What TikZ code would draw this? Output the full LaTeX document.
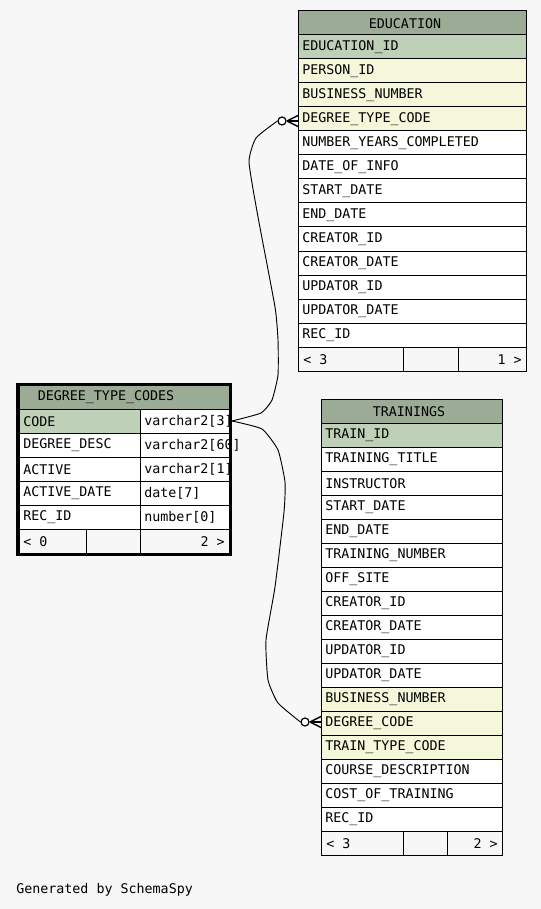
\documentclass[tikz,border=0pt]{standalone}
\usepackage{fontspec}
\setmonofont{DejaVu Sans Mono}
\definecolor{bgc}{HTML}{F7F7F7}
\definecolor{hdr}{HTML}{9BAB96}
\definecolor{pk}{HTML}{BED1B8}
\definecolor{fk}{HTML}{F4F7DA}
\tikzset{
  cell/.style={anchor=west, inner sep=0pt, font=\ttfamily\fontsize{10}{12}\selectfont},
  cellr/.style={anchor=east, inner sep=0pt, font=\ttfamily\fontsize{10}{12}\selectfont},
  cellc/.style={anchor=center, inner sep=0pt, font=\ttfamily\fontsize{10}{12}\selectfont},
  box/.style={draw=black, line width=0.75pt},
  rel/.style={draw=black, line width=0.7pt},
  optcircle/.style={circle, draw=black, fill=white, line width=0.9pt, inner sep=0pt, minimum size=6pt},
  crow/.style={draw=black, line width=1.1pt},
}
\newcommand\rowbox[6]{% name, x1, x2, ytop, fill, text
  \path[box, fill=#5] (#2,#4) rectangle (#3,#4+24);
  \node[cell] (#1) at (#2+4,#4+12.5) {#6};
}
\begin{document}
\begin{tikzpicture}[x=0.75pt, y=-0.75pt]
\useasboundingbox (0,0) rectangle (541,909);
\fill[bgc] (0,0) rectangle (541,909);

% ---------- EDUCATION ----------
\path[box, fill=hdr] (298,11) rectangle (526,35);
\node[cellc] (edu-h) at (405,23.5) {EDUCATION};
\rowbox{edu-1}{298}{526}{35}{pk}{EDUCATION\_ID}
\rowbox{edu-2}{298}{526}{59}{fk}{PERSON\_ID}
\rowbox{edu-3}{298}{526}{83}{fk}{BUSINESS\_NUMBER}
\rowbox{edu-4}{298}{526}{107}{fk}{DEGREE\_TYPE\_CODE}
\rowbox{edu-5}{298}{526}{131}{white}{NUMBER\_YEARS\_COMPLETED}
\rowbox{edu-6}{298}{526}{155}{white}{DATE\_OF\_INFO}
\rowbox{edu-7}{298}{526}{179}{white}{START\_DATE}
\rowbox{edu-8}{298}{526}{203}{white}{END\_DATE}
\rowbox{edu-9}{298}{526}{227}{white}{CREATOR\_ID}
\rowbox{edu-10}{298}{526}{251}{white}{CREATOR\_DATE}
\rowbox{edu-11}{298}{526}{275}{white}{UPDATOR\_ID}
\rowbox{edu-12}{298}{526}{299}{white}{UPDATOR\_DATE}
\rowbox{edu-13}{298}{526}{323}{white}{REC\_ID}
\path[box, fill=bgc] (298,347) rectangle (403,371);
\path[box, fill=bgc] (403,347) rectangle (458,371);
\path[box, fill=bgc] (458,347) rectangle (526,371);
\node[cell] (edu-fl) at (303,359.5) {< 3};
\node[cellr] (edu-fr) at (522,359.5) {1 >};

% ---------- TRAININGS ----------
\path[box, fill=hdr] (321,399) rectangle (502,423);
\node[cellc] (tr-h) at (409,411.5) {TRAININGS};
\rowbox{tr-1}{321}{502}{423}{pk}{TRAIN\_ID}
\rowbox{tr-2}{321}{502}{447}{white}{TRAINING\_TITLE}
\rowbox{tr-3}{321}{502}{471}{white}{INSTRUCTOR}
\rowbox{tr-4}{321}{502}{495}{white}{START\_DATE}
\rowbox{tr-5}{321}{502}{519}{white}{END\_DATE}
\rowbox{tr-6}{321}{502}{543}{white}{TRAINING\_NUMBER}
\rowbox{tr-7}{321}{502}{567}{white}{OFF\_SITE}
\rowbox{tr-8}{321}{502}{591}{white}{CREATOR\_ID}
\rowbox{tr-9}{321}{502}{615}{white}{CREATOR\_DATE}
\rowbox{tr-10}{321}{502}{639}{white}{UPDATOR\_ID}
\rowbox{tr-11}{321}{502}{663}{white}{UPDATOR\_DATE}
\rowbox{tr-12}{321}{502}{687}{fk}{BUSINESS\_NUMBER}
\rowbox{tr-13}{321}{502}{711}{fk}{DEGREE\_CODE}
\rowbox{tr-14}{321}{502}{735}{fk}{TRAIN\_TYPE\_CODE}
\rowbox{tr-15}{321}{502}{759}{white}{COURSE\_DESCRIPTION}
\rowbox{tr-16}{321}{502}{783}{white}{COST\_OF\_TRAINING}
\rowbox{tr-17}{321}{502}{807}{white}{REC\_ID}
\path[box, fill=bgc] (321,831) rectangle (403,855);
\path[box, fill=bgc] (403,831) rectangle (447,855);
\path[box, fill=bgc] (447,831) rectangle (502,855);
\node[cell] (tr-fl) at (326,843.5) {< 3};
\node[cellr] (tr-fr) at (498,843.5) {2 >};

% ---------- DEGREE_TYPE_CODES ----------
\path[box, fill=hdr] (19,385) rectangle (229,409);
\node[cellc] (dtc-h) at (106,397.5) {DEGREE\_TYPE\_CODES};
\rowbox{dtc-1}{19}{140}{409}{pk}{CODE}
\rowbox{dtc-1t}{140}{229}{409}{white}{varchar2[3]}
\rowbox{dtc-2}{19}{140}{433}{white}{DEGREE\_DESC}
\rowbox{dtc-2t}{140}{229}{433}{white}{varchar2[60]}
\rowbox{dtc-3}{19}{140}{457}{white}{ACTIVE}
\rowbox{dtc-3t}{140}{229}{457}{white}{varchar2[1]}
\rowbox{dtc-4}{19}{140}{481}{white}{ACTIVE\_DATE}
\rowbox{dtc-4t}{140}{229}{481}{white}{date[7]}
\rowbox{dtc-5}{19}{140}{505}{white}{REC\_ID}
\rowbox{dtc-5t}{140}{229}{505}{white}{number[0]}
\path[box, fill=bgc] (19,529) rectangle (86,553);
\path[box, fill=bgc] (86,529) rectangle (140,553);
\path[box, fill=bgc] (140,529) rectangle (229,553);
\node[cell] (dtc-fl) at (23,541.5) {< 0};
\node[cellr] (dtc-fr) at (225,541.5) {2 >};
\draw[line width=2.25pt] (17.5,384.5) rectangle (230.5,554.5);

% ---------- relationships ----------
\coordinate (dtc-code-e) at (232,421);
\coordinate (edu-dtc-w) at (298,121);
\coordinate (tr-dc-w) at (321,722);
\node[optcircle] (c1) at (282,121) {};
\node[optcircle] (c2) at (305,722) {};

\draw[rel] plot[smooth, tension=0.3] coordinates {(dtc-code-e) (261,413) (272,400) (278,375) (278,340) (275,307) (258,217) (249,162) (256,138) (c1.west)};
\draw[rel] plot[smooth, tension=0.3] coordinates {(dtc-code-e) (262,429) (278,450) (285,482) (284,512) (275,587) (266,640) (268,680) (278,703) (c2.west)};

\draw[crow] (c1.east) -- (edu-dtc-w);
\draw[crow] (287,121) -- (298,115.5);
\draw[crow] (287,121) -- (298,126.5);
\draw[crow] (c2.east) -- (tr-dc-w);
\draw[crow] (310,722) -- (321,716.5);
\draw[crow] (310,722) -- (321,727.5);

\node[cell] (gen) at (16,890) {Generated by SchemaSpy};
\end{tikzpicture}
\end{document}
